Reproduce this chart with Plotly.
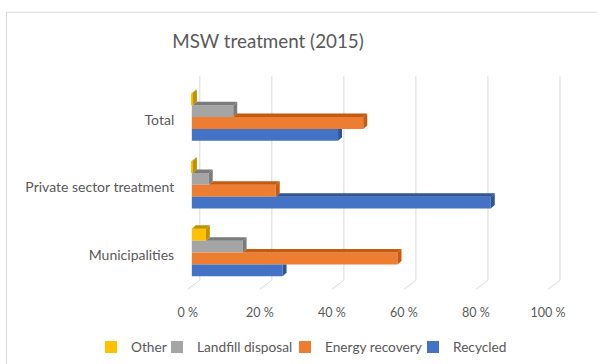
import plotly.graph_objects as go

# ---- data (shares of municipal solid waste treatment, %) ----
categories = ["Municipalities", "Private sector treatment", "Total"]
recycled = [25.2, 83.0, 40.6]
energy_recovery = [57.1, 23.3, 47.6]
landfill_disposal = [14.1, 4.7, 11.5]
other = [3.9, 0.3, 0.3]

x_ticks = [0, 20, 40, 60, 80, 100]
x_tick_labels = ["0 %", "20 %", "40 %", "60 %", "80 %", "100 %"]

# ---- styling ----
W, H = 597, 364
M_L, M_R, M_T, M_B = 181, 27, 75, 71
X_RANGE = [-3, 105]
Y_RANGE = [-0.56, 2.62]
PX_PER_X = (W - M_L - M_R) / (X_RANGE[1] - X_RANGE[0])
PX_PER_Y = (H - M_T - M_B) / (Y_RANGE[1] - Y_RANGE[0])

FONT = "Lato"
TEXT = "#595959"
GRID = "#D9D9D9"

BAR_H = 12 / PX_PER_Y          # bar thickness in category units
DEPTH_DX = 4 / PX_PER_X        # 3-D bevel depth, x direction
DEPTH_DY = 3.5 / PX_PER_Y      # 3-D bevel depth, y direction
FRONT_DX = -4 / PX_PER_X       # floor front edge relative to bar face
FRONT_DY = -2.7 / PX_PER_Y
BACK_DX = 8 / PX_PER_X         # back wall relative to bar face
GRID_TOP = 2.6
FLOOR_BACK = -0.41
FLOOR_FRONT = -0.54

# series from top of each group to bottom
series = [
    ("Other", other, "#FFC000", "#BF9000"),
    ("Landfill disposal", landfill_disposal, "#A5A5A5", "#7B7B7B"),
    ("Energy recovery", energy_recovery, "#ED7D31", "#C55A11"),
    ("Recycled", recycled, "#4472C4", "#2F5597"),
]
offsets = [1.5, 0.5, -0.5, -1.5]
legend_ids = ["legend", "legend2", "legend3", "legend4"]
legend_text_x = [131, 197, 325, 453]

fig = go.Figure()
shapes = []

# back-wall gridlines with a slanted floor segment
for v in x_ticks:
    bx, fx = v + BACK_DX, v + FRONT_DX
    shapes.append(dict(
        type="path", xref="x", yref="y", layer="below",
        path=f"M {bx},{GRID_TOP} L {bx},{FLOOR_BACK} L {fx},{FLOOR_FRONT}",
        line=dict(color=GRID, width=1),
    ))

for (name, vals, color, dark), off, lid in zip(series, offsets, legend_ids):
    ys = [i + off * BAR_H for i in range(len(categories))]
    fig.add_trace(go.Bar(
        orientation="h", x=vals, y=ys, width=BAR_H, name=name,
        marker=dict(color=color, line=dict(width=0)),
        legend=lid, showlegend=True,
        hovertemplate=name + ": %{x:.1f} %<extra></extra>",
    ))

# bevel faces (top and right side) of each bar
for si, ((name, vals, color, dark), off) in enumerate(zip(series, offsets)):
    for i, v in enumerate(vals):
        yc = i + off * BAR_H
        b, t = yc - BAR_H / 2, yc + BAR_H / 2
        u = series[si - 1][1][i] if si > 0 else 0.0
        if u < v:
            shapes.append(dict(
                type="path", xref="x", yref="y", layer="above",
                path=(f"M {u},{t} L {v},{t} L {v + DEPTH_DX},{t + DEPTH_DY} "
                      f"L {u + DEPTH_DX},{t + DEPTH_DY} Z"),
                fillcolor=dark, line=dict(width=0),
            ))
        top_right = t + DEPTH_DY if u <= v else t
        shapes.append(dict(
            type="path", xref="x", yref="y", layer="above",
            path=(f"M {v},{b} L {v},{t} L {v + DEPTH_DX},{top_right} "
                  f"L {v + DEPTH_DX},{b + DEPTH_DY} Z"),
            fillcolor=dark, line=dict(width=0),
        ))

# chart frame
px2paper_x = lambda px: (px - M_L) / (W - M_L - M_R)
px2paper_y = lambda py: (H - M_B - py) / (H - M_T - M_B)
shapes.append(dict(
    type="rect", xref="paper", yref="paper", layer="below",
    x0=px2paper_x(6.5), x1=px2paper_x(W + 20),
    y0=px2paper_y(H + 20), y1=px2paper_y(11.5),
    line=dict(color=GRID, width=1), fillcolor="rgba(0,0,0,0)",
))

legends = {}
for lid, tx in zip(legend_ids, legend_text_x):
    legends[lid] = dict(
        orientation="h", xref="container", yref="container",
        x=(tx - 40) / W, xanchor="left", y=1 - 347 / H, yanchor="middle",
        font=dict(family=FONT, size=13.7, color=TEXT),
        bgcolor="rgba(0,0,0,0)", borderwidth=0, itemclick=False,
    )

fig.update_layout(
    width=W, height=H,
    margin=dict(l=M_L, r=M_R, t=M_T, b=M_B, pad=0),
    paper_bgcolor="white", plot_bgcolor="white",
    barmode="overlay", showlegend=True,
    title=dict(
        text="MSW treatment (2015)", xref="container", yref="container",
        x=268 / W, xanchor="center", y=1 - 41 / H, yanchor="middle",
        font=dict(family=FONT, size=18.8, color=TEXT),
    ),
    xaxis=dict(
        range=X_RANGE, showgrid=False, zeroline=False, showline=False,
        tickvals=[v + FRONT_DX for v in x_ticks], ticktext=x_tick_labels,
        ticks="outside", ticklen=10, tickcolor="rgba(0,0,0,0)",
        tickfont=dict(family=FONT, size=12.5, color=TEXT),
    ),
    yaxis=dict(
        range=Y_RANGE, showgrid=False, zeroline=False, showline=False,
        tickvals=[i + FRONT_DY for i in range(len(categories))],
        ticktext=categories,
        ticks="outside", ticklen=3, tickcolor="rgba(0,0,0,0)",
        tickfont=dict(family=FONT, size=14, color=TEXT),
    ),
    shapes=shapes,
    **legends,
)

fig.write_html("out.html")
